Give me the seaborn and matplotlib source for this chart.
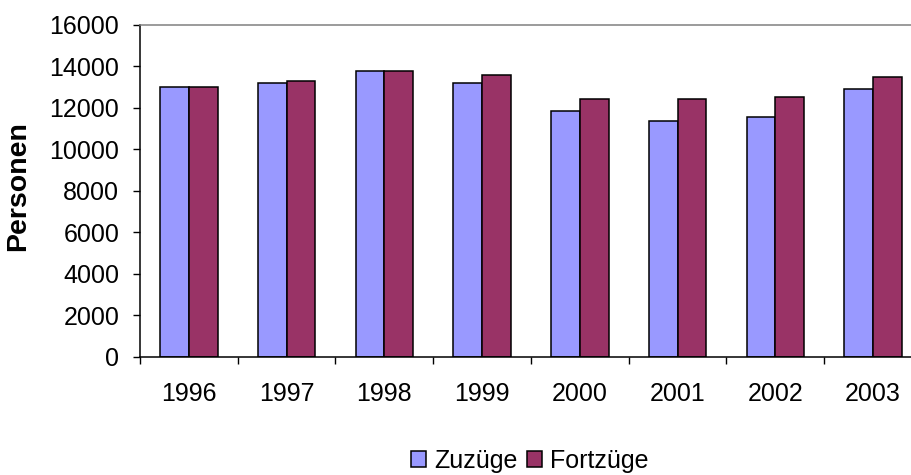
import matplotlib
matplotlib.use("Agg")
import matplotlib.pyplot as plt
from matplotlib.patches import Patch
import seaborn as sns
import pandas as pd

years = ["1996", "1997", "1998", "1999", "2000", "2001", "2002", "2003"]
zuzuege = [13000, 13200, 13770, 13200, 11840, 11360, 11550, 12900]
fortzuege = [13000, 13290, 13770, 13570, 12400, 12400, 12510, 13480]
series = ["Zuzüge", "Fortzüge"]
colors = ["#9999FF", "#993366"]
yticks = [0, 2000, 4000, 6000, 8000, 10000, 12000, 14000, 16000]

sns.set_style("white")
plt.rcParams["font.family"] = ["Liberation Sans", "DejaVu Sans"]
plt.rcParams["text.color"] = "black"
plt.rcParams["xtick.color"] = "black"
plt.rcParams["ytick.color"] = "black"
plt.rcParams["axes.labelcolor"] = "black"

df = pd.DataFrame({
    "Jahr": years * 2,
    "Personen": zuzuege + fortzuege,
    "Art": [series[0]] * len(years) + [series[1]] * len(years),
})

fig = plt.figure(figsize=(9.12, 4.75), dpi=100)
W, H = 912, 475
ax = fig.add_axes([140 / W, (H - 357) / H, (922 - 140) / W, (357 - 24.5) / H])

sns.barplot(data=df, x="Jahr", y="Personen", hue="Art", order=years,
            hue_order=series, palette=colors, width=0.587, saturation=1,
            edgecolor="black", linewidth=1.1, legend=False, ax=ax)

ax.set_xlim(-0.5, 7.5)
ax.set_ylim(0, 16000)
ax.set_yticks(yticks)
ax.set_xticks(range(len(years)))
ax.set_xticklabels(years)
ax.set_xticks([i - 0.5 for i in range(len(years) + 1)], minor=True)
ax.tick_params(axis="x", which="major", length=0, pad=18, labelsize=18)
ax.tick_params(axis="x", which="minor", length=5, width=1, direction="out",
               bottom=True)
ax.tick_params(axis="y", length=5, width=1, direction="out",
               left=True, pad=10, labelsize=18)

for s in ["left", "bottom"]:
    ax.spines[s].set_color("black")
    ax.spines[s].set_linewidth(1.1)
ax.spines["top"].set_color("#808080")
ax.spines["top"].set_linewidth(1.1)
ax.spines["right"].set_visible(False)

ax.set_xlabel("")
ax.set_ylabel("Personen", fontsize=20.5, fontweight="bold")
ax.yaxis.set_label_coords((31 - 140) / 782, (357 - 186.5) / 332.5)

handles = [Patch(facecolor=c, edgecolor="black", linewidth=1.1, label=l)
           for c, l in zip(colors, series)]
fig.legend(handles=handles, loc="center", bbox_to_anchor=(530 / W, 1 - 461 / H),
           ncol=2, frameon=False, fontsize=18, handlelength=0.6,
           handleheight=0.6, handletextpad=0.32, columnspacing=0.4,
           borderpad=0, borderaxespad=0)

fig.savefig("out.png", dpi=100)
